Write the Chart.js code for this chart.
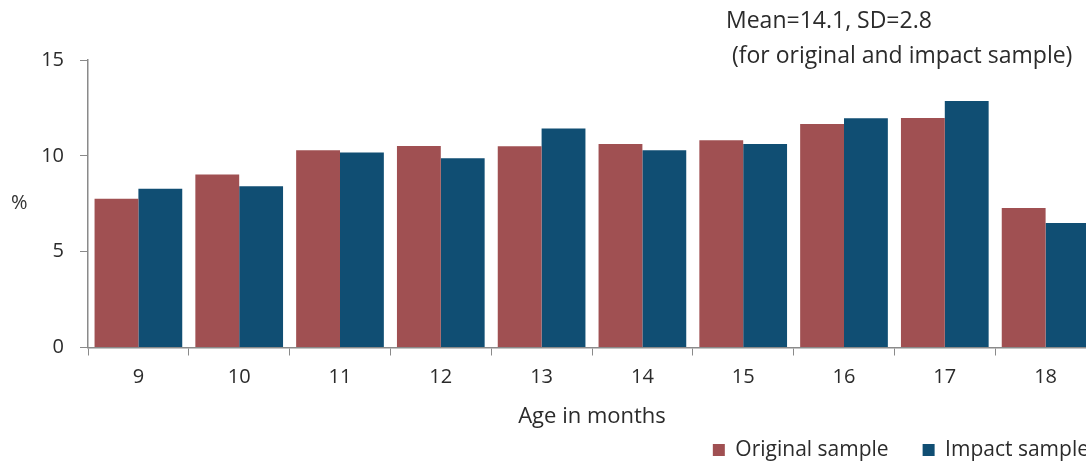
<!DOCTYPE html>
<html lang="en">
<head>
  <meta charset="UTF-8">
  <title>Age in months</title>
  <script src="https://cdn.jsdelivr.net/npm/chart.js"></script>
  <style>
    html, body {
      margin: 0;
      padding: 0;
      background: #fff;
      overflow: hidden;
    }
    #wrap {
      position: relative;
      width: 1100px;
      height: 461px;
    }
  </style>
</head>
<body>
  <div id="wrap">
    <canvas id="ageChart"></canvas>
  </div>

  <script>
    // Values (percent of children by age in months).
    const categories = ["9", "10", "11", "12", "13", "14", "15", "16", "17", "18"];
    const originalSample = [7.76, 9.03, 10.29, 10.51, 10.5, 10.62, 10.81, 11.66, 11.97, 7.28];
    const impactSample = [8.28, 8.41, 10.18, 9.87, 11.43, 10.29, 10.62, 11.96, 12.86, 6.5];
    const yTicks = [0, 5, 10, 15];
    const noteLines = ["Mean=14.1, SD=2.8", " (for original and impact sample)"];

    const FONT = "'Open Sans', sans-serif";

    // Note at the top, the horizontal "%" label, and a small legend nudge.
    const textPlugin = {
      id: "extraText",
      afterLayout(chart) {
        chart.legend.left += 27;
        chart.legend.right += 27;
      },
      afterDraw(chart) {
        const ctx = chart.ctx;
        ctx.save();
        ctx.fillStyle = "#2b2b2b";
        ctx.textBaseline = "middle";
        ctx.textAlign = "left";
        ctx.font = "23px " + FONT;
        ctx.fillText(noteLines[0], 726, 21);
        ctx.fillText(noteLines[1], 726, 56);
        ctx.fillStyle = "#333";
        ctx.font = "20px " + FONT;
        ctx.fillText("%", 11, 203);
        ctx.restore();
      }
    };

    const ctx = document.getElementById("ageChart").getContext("2d");
    new Chart(ctx, {
      type: "bar",
      data: {
        labels: categories,
        datasets: [
          {
            label: "Original sample",
            data: originalSample,
            backgroundColor: "#A05052",
            borderWidth: 0
          },
          {
            label: "Impact sample",
            data: impactSample,
            backgroundColor: "#104E73",
            borderWidth: 0
          }
        ]
      },
      options: {
        responsive: true,
        maintainAspectRatio: false,
        animation: false,
        datasets: {
          bar: {
            barPercentage: 1.0,
            categoryPercentage: 0.87
          }
        },
        layout: {
          padding: { top: 60, right: 4, bottom: -9.5, left: 0 }
        },
        scales: {
          x: {
            afterFit(scale) {
              scale.height = 58;
            },
            grid: {
              offset: true,
              drawOnChartArea: false,
              drawTicks: true,
              tickLength: 8,
              color: "#8a8a8a"
            },
            border: { color: "#8a8a8a", width: 1.5 },
            ticks: {
              color: "#2b2b2b",
              padding: 10,
              font: { family: FONT, size: 20 }
            },
            title: {
              display: true,
              text: "Age in months",
              color: "#2b2b2b",
              padding: { top: 0, bottom: -24 },
              font: { family: FONT, size: 22 }
            }
          },
          y: {
            min: 0,
            max: 15,
            afterBuildTicks(scale) {
              scale.ticks = yTicks.map(v => ({ value: v }));
            },
            afterFit(scale) {
              scale.width = 88;
            },
            grid: {
              drawOnChartArea: false,
              drawTicks: true,
              tickLength: 8,
              color: "#8a8a8a"
            },
            border: { color: "#8a8a8a", width: 1.5 },
            ticks: {
              color: "#2b2b2b",
              padding: 16,
              font: { family: FONT, size: 20 }
            }
          }
        },
        plugins: {
          legend: {
            position: "bottom",
            align: "end",
            labels: {
              boxWidth: 12,
              boxHeight: 12,
              padding: 34,
              color: "#2b2b2b",
              font: { family: FONT, size: 21 }
            }
          },
          tooltip: { enabled: false }
        }
      },
      plugins: [textPlugin]
    });
  </script>
</body>
</html>
